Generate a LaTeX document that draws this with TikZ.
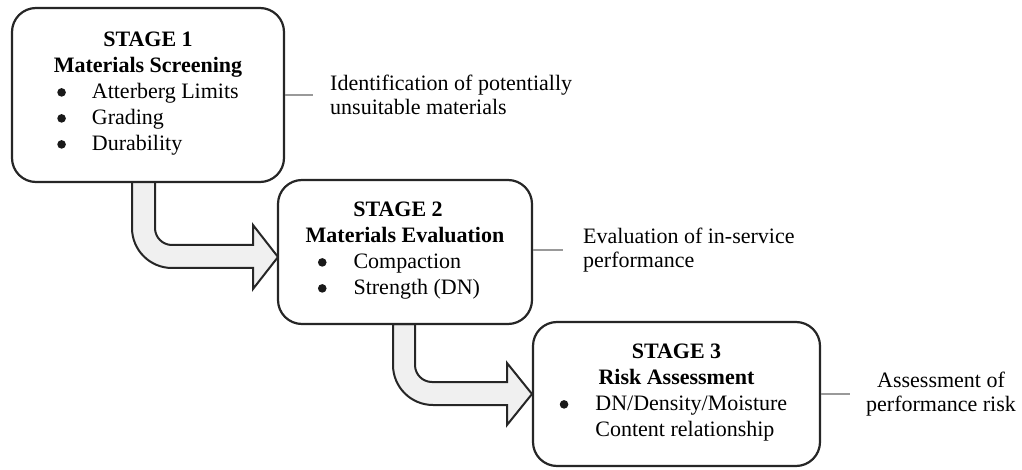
\documentclass[tikz,border=0pt]{standalone}
\usepackage{fontspec}
\setmainfont{Liberation Serif}
\usepackage{tikz}
\newcommand\bul{\tikz[baseline=-6pt]\fill[black!90] (0pt,0pt) circle[radius=4.3pt];}
\begin{document}
\begin{tikzpicture}[x=1pt,y=-1pt,
	stagebox/.style={draw=black!85,line width=2.2pt,fill=white,rounded corners=24pt,align=center,
		font=\fontsize{22}{26}\selectfont,inner sep=0pt},
	note/.style={font=\fontsize{22}{24.5}\selectfont,inner xsep=17pt,inner ysep=0pt},
	guide/.style={draw=black!40,line width=1.3pt},
	blockarrow/.style={draw=black!85,line width=2pt,fill=black!6,line join=miter}]
	\useasboundingbox (0,0) rectangle (1022,470);
	% bent arrows between the stages
	\draw [blockarrow] (132,182) -- (132,228) arc[start angle=180,end angle=90,radius=40] -- (253,268) -- (253,289)
		-- (278,257) -- (253,225) -- (253,245) -- (172,245) arc[start angle=90,end angle=180,radius=17] -- (155,182) -- cycle;
	\draw [blockarrow] (393,324) -- (393,365) arc[start angle=180,end angle=90,radius=40] -- (507,405) -- (507,425)
		-- (532,394) -- (507,363) -- (507,382) -- (432,382) arc[start angle=90,end angle=180,radius=17] -- (415,324) -- cycle;
	% stages
	\node [stagebox,minimum width=272pt,minimum height=174pt] (s1) at (148,95)
		{\textbf{STAGE 1}\\\textbf{Materials Screening}\\
		\begin{tabular}[t]{@{}l@{\hspace{26pt}}l@{}}\bul & Atterberg Limits\\ \bul & Grading\\ \bul & Durability\end{tabular}};
	\node [stagebox,minimum width=254pt,minimum height=144pt] (s2) at (405,252)
		{\textbf{STAGE 2}\hspace*{14pt}\\\textbf{Materials Evaluation}\\
		\begin{tabular}[t]{@{}l@{\hspace{27pt}}l@{}}\bul & Compaction\\ \bul & Strength (DN)\end{tabular}\hspace*{12pt}};
	\node [stagebox,minimum width=287pt,minimum height=144pt] (s3) at (676.5,394)
		{\textbf{STAGE 3}\\\textbf{Risk Assessment}\\
		\begin{tabular}[t]{@{}l@{\hspace{27pt}}l@{}}\bul & DN/Density/Moisture\\ & Content relationship\end{tabular}\hspace*{6pt}};
	% outcomes
	\node [note,anchor=west,align=left] (l1) at (313,95) {Identification of potentially\\unsuitable materials};
	\node [note,anchor=west,align=left,inner xsep=20pt] (l2) at (563,250) {Evaluation of in-service\\performance};
	\node [note,anchor=west,align=center,inner xsep=16pt] (l3) at (850,394) {Assessment of\\performance risk};
	\foreach \n in {1,2,3}
	\draw [guide] (s\n.east |- l\n.west) -- (l\n.west);
\end{tikzpicture}
\end{document}
